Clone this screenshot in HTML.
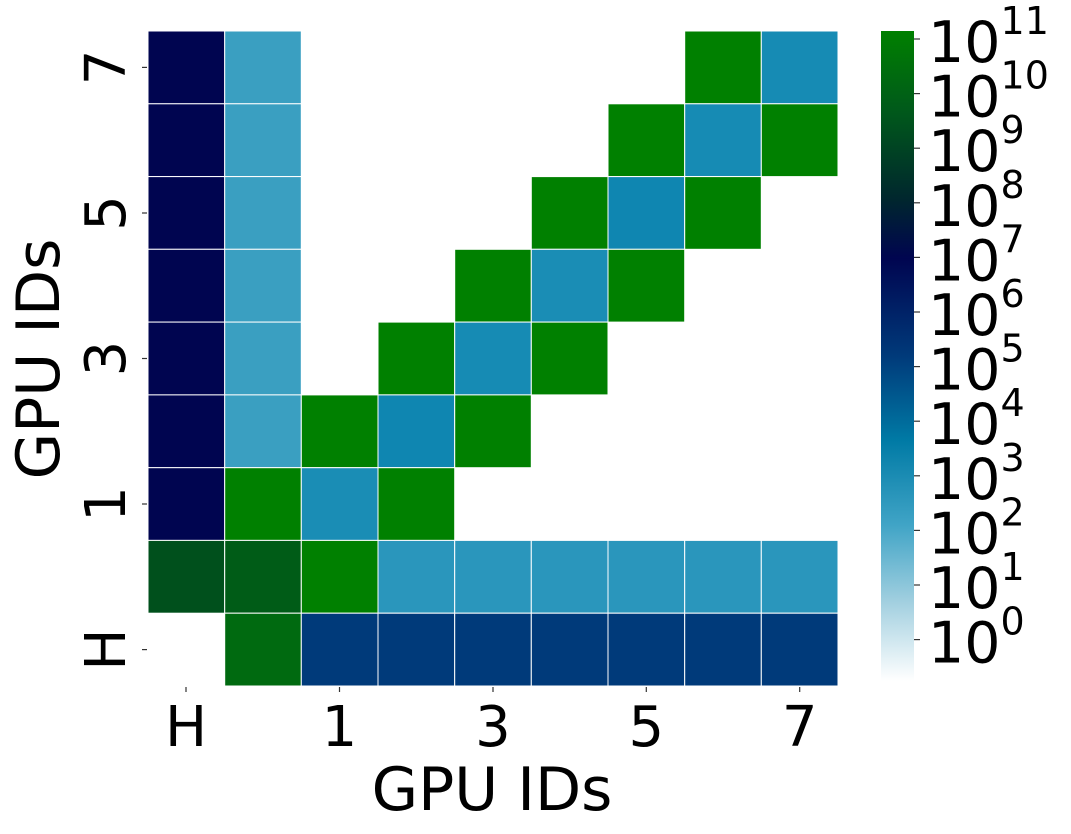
<!DOCTYPE html>
<html><head><meta charset="utf-8"><style>
html,body{margin:0;padding:0;background:#fff;}
svg{display:block;font-family:"DejaVu Sans","Liberation Sans",sans-serif;}
</style></head><body>
<svg width="1071" height="834" viewBox="0 0 1071 834" xmlns="http://www.w3.org/2000/svg">
<defs>
<linearGradient id="cb" x1="0" y1="0" x2="0" y2="1">
<stop offset="0" stop-color="#008000"/>
<stop offset="0.12" stop-color="#005a1a"/>
<stop offset="0.26" stop-color="#00262e"/>
<stop offset="0.35" stop-color="#000550"/>
<stop offset="0.50" stop-color="#003a7a"/>
<stop offset="0.63" stop-color="#007aa5"/>
<stop offset="0.76" stop-color="#40a4c6"/>
<stop offset="0.88" stop-color="#a3d0e0"/>
<stop offset="1" stop-color="#ffffff"/>
</linearGradient>
</defs>
<g stroke="#ffffff" stroke-width="1">
<rect x="148" y="31" width="76.7" height="72.8" fill="#000550"/>
<rect x="224.7" y="31" width="76.6" height="72.8" fill="#3a9fc1"/>
<rect x="684.7" y="31" width="76.6" height="72.8" fill="#008000"/>
<rect x="761.3" y="31" width="76.7" height="72.8" fill="#168bb4"/>
<rect x="148" y="103.8" width="76.7" height="72.8" fill="#000550"/>
<rect x="224.7" y="103.8" width="76.6" height="72.8" fill="#3a9fc1"/>
<rect x="608" y="103.8" width="76.7" height="72.8" fill="#008000"/>
<rect x="684.7" y="103.8" width="76.6" height="72.8" fill="#168bb4"/>
<rect x="761.3" y="103.8" width="76.7" height="72.8" fill="#008000"/>
<rect x="148" y="176.6" width="76.7" height="72.7" fill="#000550"/>
<rect x="224.7" y="176.6" width="76.6" height="72.7" fill="#3a9fc1"/>
<rect x="531.3" y="176.6" width="76.7" height="72.7" fill="#008000"/>
<rect x="608" y="176.6" width="76.7" height="72.7" fill="#0f86b1"/>
<rect x="684.7" y="176.6" width="76.6" height="72.7" fill="#008000"/>
<rect x="148" y="249.3" width="76.7" height="72.8" fill="#000550"/>
<rect x="224.7" y="249.3" width="76.6" height="72.8" fill="#3a9fc1"/>
<rect x="454.7" y="249.3" width="76.6" height="72.8" fill="#008000"/>
<rect x="531.3" y="249.3" width="76.7" height="72.8" fill="#1a8db5"/>
<rect x="608" y="249.3" width="76.7" height="72.8" fill="#008000"/>
<rect x="148" y="322.1" width="76.7" height="72.8" fill="#000550"/>
<rect x="224.7" y="322.1" width="76.6" height="72.8" fill="#3a9fc1"/>
<rect x="378" y="322.1" width="76.7" height="72.8" fill="#008000"/>
<rect x="454.7" y="322.1" width="76.6" height="72.8" fill="#168bb4"/>
<rect x="531.3" y="322.1" width="76.7" height="72.8" fill="#008000"/>
<rect x="148" y="394.9" width="76.7" height="72.8" fill="#000550"/>
<rect x="224.7" y="394.9" width="76.6" height="72.8" fill="#3a9fc1"/>
<rect x="301.3" y="394.9" width="76.7" height="72.8" fill="#008000"/>
<rect x="378" y="394.9" width="76.7" height="72.8" fill="#0f86b1"/>
<rect x="454.7" y="394.9" width="76.6" height="72.8" fill="#008000"/>
<rect x="148" y="467.7" width="76.7" height="72.7" fill="#000550"/>
<rect x="224.7" y="467.7" width="76.6" height="72.7" fill="#008000"/>
<rect x="301.3" y="467.7" width="76.7" height="72.7" fill="#1a8db5"/>
<rect x="378" y="467.7" width="76.7" height="72.7" fill="#008000"/>
<rect x="148" y="540.4" width="76.7" height="72.8" fill="#00501c"/>
<rect x="224.7" y="540.4" width="76.6" height="72.8" fill="#005c17"/>
<rect x="301.3" y="540.4" width="76.7" height="72.8" fill="#008000"/>
<rect x="378" y="540.4" width="76.7" height="72.8" fill="#2a96bc"/>
<rect x="454.7" y="540.4" width="76.6" height="72.8" fill="#2a96bc"/>
<rect x="531.3" y="540.4" width="76.7" height="72.8" fill="#2a96bc"/>
<rect x="608" y="540.4" width="76.7" height="72.8" fill="#2a96bc"/>
<rect x="684.7" y="540.4" width="76.6" height="72.8" fill="#2a96bc"/>
<rect x="761.3" y="540.4" width="76.7" height="72.8" fill="#2a96bc"/>
<rect x="224.7" y="613.2" width="76.6" height="72.8" fill="#006a10"/>
<rect x="301.3" y="613.2" width="76.7" height="72.8" fill="#003a7a"/>
<rect x="378" y="613.2" width="76.7" height="72.8" fill="#003a7a"/>
<rect x="454.7" y="613.2" width="76.6" height="72.8" fill="#003a7a"/>
<rect x="531.3" y="613.2" width="76.7" height="72.8" fill="#003a7a"/>
<rect x="608" y="613.2" width="76.7" height="72.8" fill="#003a7a"/>
<rect x="684.7" y="613.2" width="76.6" height="72.8" fill="#003a7a"/>
<rect x="761.3" y="613.2" width="76.7" height="72.8" fill="#003a7a"/>
</g>
<g stroke="#333" stroke-width="1.2">
<line x1="142" y1="67.4" x2="147" y2="67.4"/>
<line x1="142" y1="213" x2="147" y2="213"/>
<line x1="142" y1="358.5" x2="147" y2="358.5"/>
<line x1="142" y1="504" x2="147" y2="504"/>
<line x1="142" y1="649.6" x2="147" y2="649.6"/>
<line x1="186" y1="687" x2="186" y2="692"/>
<line x1="339.5" y1="687" x2="339.5" y2="692"/>
<line x1="493" y1="687" x2="493" y2="692"/>
<line x1="646.3" y1="687" x2="646.3" y2="692"/>
<line x1="799.7" y1="687" x2="799.7" y2="692"/>
</g>
<g font-size="56" fill="#000" text-anchor="middle">
<text transform="translate(125,67.4) rotate(-90)">7</text>
<text transform="translate(125,213) rotate(-90)">5</text>
<text transform="translate(125,358.5) rotate(-90)">3</text>
<text transform="translate(125,504) rotate(-90)">1</text>
<text transform="translate(125,649.6) rotate(-90)">H</text>
<text x="186" y="746">H</text>
<text x="339.5" y="746">1</text>
<text x="493" y="746">3</text>
<text x="646.3" y="746">5</text>
<text x="799.7" y="746">7</text>
<text x="492" y="810" font-size="60">GPU IDs</text>
<text transform="translate(59,359) rotate(-90)" font-size="60">GPU IDs</text>
</g>
<rect x="881" y="31" width="33" height="650" fill="url(#cb)"/>
<g stroke="#333" stroke-width="1.2">
<line x1="914" y1="39" x2="920" y2="39"/>
<line x1="914" y1="93.6" x2="920" y2="93.6"/>
<line x1="914" y1="148.2" x2="920" y2="148.2"/>
<line x1="914" y1="202.8" x2="920" y2="202.8"/>
<line x1="914" y1="257.4" x2="920" y2="257.4"/>
<line x1="914" y1="312" x2="920" y2="312"/>
<line x1="914" y1="366.6" x2="920" y2="366.6"/>
<line x1="914" y1="421.2" x2="920" y2="421.2"/>
<line x1="914" y1="475.8" x2="920" y2="475.8"/>
<line x1="914" y1="530.4" x2="920" y2="530.4"/>
<line x1="914" y1="585" x2="920" y2="585"/>
<line x1="914" y1="639.6" x2="920" y2="639.6"/>
</g>
<g fill="#000" font-size="57">
<text x="928" y="62">10<tspan font-size="38" dy="-28">11</tspan></text>
<text x="928" y="116.6">10<tspan font-size="38" dy="-28">10</tspan></text>
<text x="928" y="171.2">10<tspan font-size="38" dy="-28">9</tspan></text>
<text x="928" y="225.8">10<tspan font-size="38" dy="-28">8</tspan></text>
<text x="928" y="280.4">10<tspan font-size="38" dy="-28">7</tspan></text>
<text x="928" y="335">10<tspan font-size="38" dy="-28">6</tspan></text>
<text x="928" y="389.6">10<tspan font-size="38" dy="-28">5</tspan></text>
<text x="928" y="444.2">10<tspan font-size="38" dy="-28">4</tspan></text>
<text x="928" y="498.8">10<tspan font-size="38" dy="-28">3</tspan></text>
<text x="928" y="553.4">10<tspan font-size="38" dy="-28">2</tspan></text>
<text x="928" y="608">10<tspan font-size="38" dy="-28">1</tspan></text>
<text x="928" y="662.6">10<tspan font-size="38" dy="-28">0</tspan></text>
</g>
</svg>
</body></html>
